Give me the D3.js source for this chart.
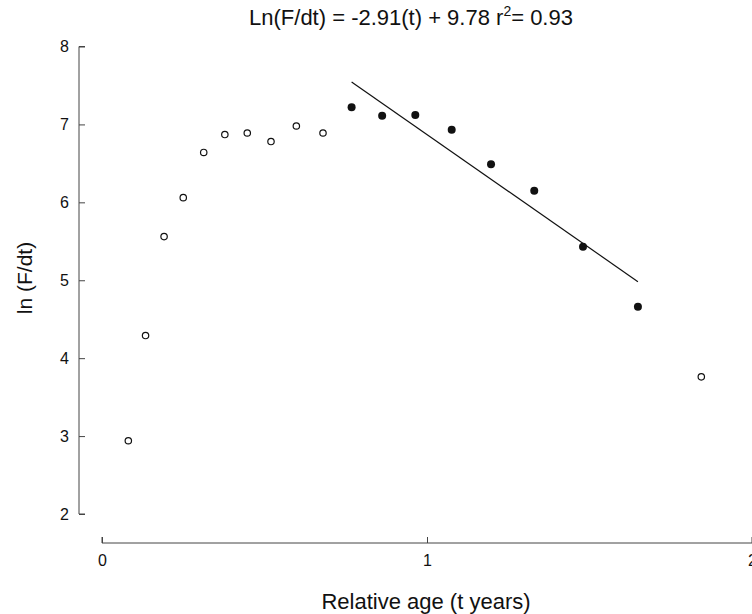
<!DOCTYPE html>
<html>
<head>
<meta charset="utf-8">
<script src="https://cdn.jsdelivr.net/npm/d3@7"></script>
<style>
  html, body { margin: 0; padding: 0; background: #fff; }
  svg { display: block; font-family: "Liberation Sans", Arial, Helvetica, sans-serif; }
</style>
</head>
<body>
<svg id="chart" width="752" height="614"></svg>
<script>
// Relative age (years) and ln(F/dt) for points outside the regression
const openAge = [0.081, 0.134, 0.191, 0.250, 0.313, 0.378, 0.447, 0.520, 0.598, 0.680, 1.844];
const openLn  = [2.94, 4.29, 5.56, 6.06, 6.64, 6.87, 6.89, 6.78, 6.98, 6.89, 3.76];

// Points used in the regression
const fitAge = [0.768, 0.862, 0.964, 1.076, 1.197, 1.330, 1.480, 1.649];
const fitLn  = [7.22, 7.11, 7.12, 6.93, 6.49, 6.15, 5.43, 4.66];

// Regression: ln(F/dt) = slope * t + intercept
const slope = -2.91;
const intercept = 9.78;

const xTicks = [0, 1, 2];
const yTicks = [2, 3, 4, 5, 6, 7, 8];

const svg = d3.select("#chart");

const x = d3.scaleLinear().domain([0, 2]).range([102, 752]);
const y = d3.scaleLinear().domain([2, 8]).range([514, 46.5]);

const axisColor = "#444";

// Y axis (ticks pointing inward)
const yAxis = svg.append("g")
  .attr("transform", "translate(79,0)")
  .call(d3.axisRight(y).tickValues(yTicks).tickSize(6).tickFormat(d3.format("d")));
yAxis.select(".domain").attr("stroke", axisColor).attr("d", `M6,${y(8)}H0V${y(2)}H6`);
yAxis.selectAll(".tick line").attr("stroke", axisColor);
yAxis.selectAll(".tick text")
  .attr("x", -10).attr("text-anchor", "end")
  .attr("font-size", 16).attr("fill", "#111");

// X axis (ticks pointing inward)
const xAxis = svg.append("g")
  .attr("transform", "translate(0,543)")
  .call(d3.axisTop(x).tickValues(xTicks).tickSize(6).tickFormat(d3.format("d")));
xAxis.select(".domain").attr("stroke", axisColor).attr("d", `M${x(0)},-6V0H${x(2)}V-6`);
xAxis.selectAll(".tick line").attr("stroke", axisColor);
xAxis.selectAll(".tick text")
  .attr("y", 23).attr("dy", 0)
  .attr("font-size", 16).attr("fill", "#111");

// Axis titles
svg.append("text")
  .attr("x", 426).attr("y", 609)
  .attr("text-anchor", "middle")
  .attr("font-size", 22).attr("fill", "#111")
  .text("Relative age (t years)");

svg.append("text")
  .attr("transform", "translate(32,278) rotate(-90)")
  .attr("text-anchor", "middle")
  .attr("font-size", 21).attr("fill", "#111")
  .text("ln (F/dt)");

// Title with regression equation
const title = svg.append("text")
  .attr("x", 411).attr("y", 25)
  .attr("text-anchor", "middle")
  .attr("font-size", 22).attr("fill", "#111");
title.append("tspan").text("Ln(F/dt) = -2.91(t) + 9.78 r");
title.append("tspan").attr("font-size", 14).attr("dy", -9).text("2");
title.append("tspan").attr("dy", 9).text("= 0.93");

// Regression line over the fitted range
const t0 = d3.min(fitAge), t1 = d3.max(fitAge);
svg.append("line")
  .attr("x1", x(t0)).attr("y1", y(slope * t0 + intercept))
  .attr("x2", x(t1)).attr("y2", y(slope * t1 + intercept))
  .attr("stroke", "#111").attr("stroke-width", 1.2);

// Open points
svg.append("g").selectAll("circle")
  .data(d3.zip(openAge, openLn))
  .join("circle")
  .attr("cx", d => x(d[0])).attr("cy", d => y(d[1]))
  .attr("r", 3.2)
  .attr("fill", "#fff").attr("stroke", "#111").attr("stroke-width", 1.2);

// Filled points
svg.append("g").selectAll("circle")
  .data(d3.zip(fitAge, fitLn))
  .join("circle")
  .attr("cx", d => x(d[0])).attr("cy", d => y(d[1]))
  .attr("r", 4)
  .attr("fill", "#111");
</script>
</body>
</html>
